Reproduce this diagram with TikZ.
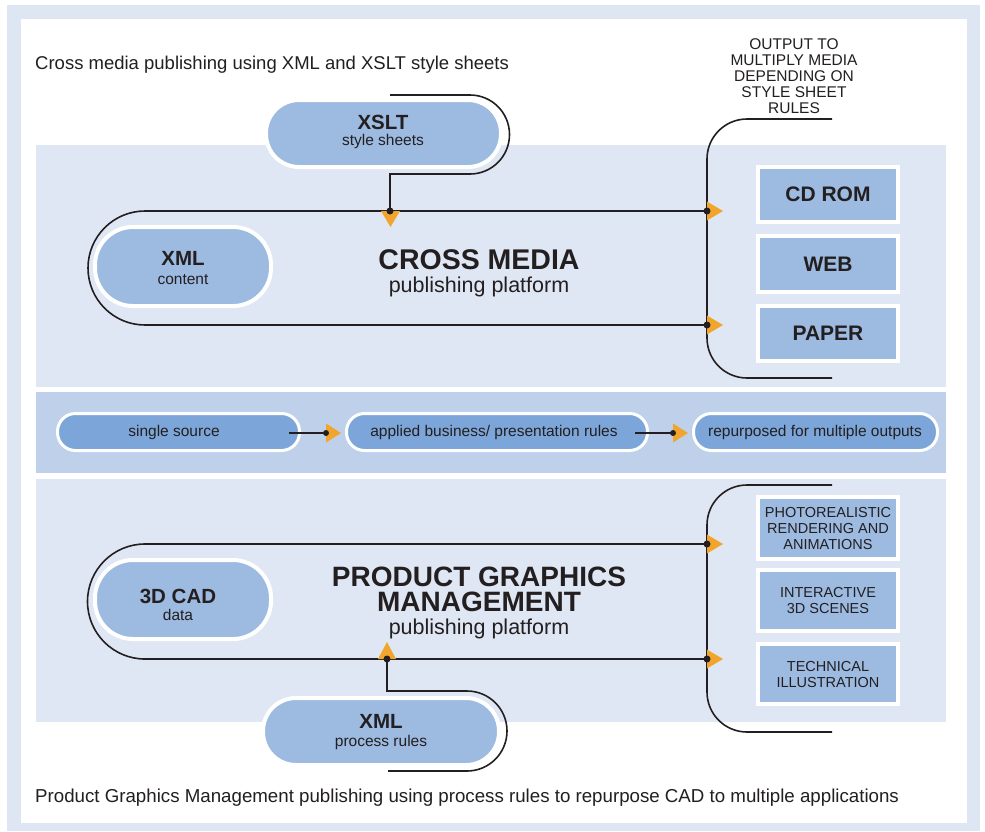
\documentclass[tikz,border=0pt]{standalone}
\usepackage{fontspec}
\setmainfont{Liberation Sans}
\definecolor{framebg}{HTML}{DFE6F3}
\definecolor{panelbg}{HTML}{E0E7F4}
\definecolor{bandbg}{HTML}{BFD0EA}
\definecolor{pillblue}{HTML}{9DBAE1}
\definecolor{midpill}{HTML}{7CA6D9}
\definecolor{arrorange}{HTML}{F2A52C}
\definecolor{ink}{HTML}{231F20}
\newcommand{\fsz}[2]{\fontsize{#1}{#2}\selectfont}
\tikzset{
  pill/.style={draw=white, line width=4pt, fill=pillblue, rounded corners=33pt, inner sep=0pt, align=center, text=ink},
  smallpill/.style={draw=white, line width=3pt, fill=midpill, rounded corners=18pt, inner sep=0pt, minimum height=37pt, text=ink, font=\fsz{15.5}{18}},
  outbox/.style={draw=white, line width=4pt, fill=pillblue, inner sep=0pt, minimum width=140pt, align=center, text=ink},
  conn/.style={draw=ink, line width=1.6pt},
  tri/.style={fill=arrorange},
  dotc/.style={fill=ink},
  lbl/.style={text=ink, inner sep=0pt},
}
\begin{document}
\begin{tikzpicture}[x=1pt,y=-1pt]
\useasboundingbox (0,0) rectangle (985,831);
% frame and backgrounds
\fill[white] (0,0) rectangle (985,831);
\fill[framebg] (7,5) rectangle (980,831);
\fill[white] (21,19) rectangle (967,823);
\fill[panelbg] (36,145) rectangle (946,387);
\fill[bandbg] (36,392) rectangle (946,473);
\fill[panelbg] (36,479) rectangle (946,722);

% captions
\node[lbl, anchor=west, font=\fsz{18.5}{22}] (cap1) at (35,64.5) {Cross media publishing using XML and XSLT style sheets};
\node[lbl, anchor=west, font=\fsz{18.7}{22}] (cap2) at (35,798) {Product Graphics Management publishing using process rules to repurpose CAD to multiple applications};

% ===== top section =====
\coordinate (xsltstart) at (390,95);
\coordinate (xsltjoin) at (390,211);
\draw[conn] (xsltstart) -- (470,95) arc[start angle=-90, end angle=90, radius=39.5] -- (390,174) -- (xsltjoin);

\node[pill, minimum width=235pt, minimum height=67pt] (xslt) at (383.5,133.5) {};
\node[lbl, font=\bfseries\fsz{20.5}{22}] (xsltt) at (383,122) {XSLT};
\node[lbl, font=\fsz{15.5}{18}] (xslts) at (383,141) {style sheets};

% loop
\coordinate (topR1) at (707,211);
\coordinate (topR2) at (707,325);
\draw[conn] (topR1) -- (145,211) arc[start angle=270, end angle=90, radius=57] -- (topR2);

% bracket
\coordinate (brT1) at (832,119);
\coordinate (brB1) at (832,378);
\draw[conn] (brT1) -- (747,119) arc[start angle=270, end angle=180, radius=40] -- (707,338) arc[start angle=180, end angle=90, radius=40] -- (brB1);

\node[pill, rounded corners=38pt, minimum width=176pt, minimum height=79pt] (xmlc) at (183,266.5) {};
\node[lbl, font=\bfseries\fsz{20.5}{22}] (xmlct) at (183,258) {XML};
\node[lbl, font=\fsz{15.5}{18}] (xmlcs) at (183,280) {content};

\node[lbl, font=\bfseries\fsz{28.5}{30}] (cm1) at (479,260) {CROSS MEDIA};
\node[lbl, font=\fsz{21.5}{24}] (cm2) at (479,287) {publishing platform};

% arrows top
\fill[tri] (381,211) -- (400,211) -- (390.5,227) -- cycle;
\fill[dotc] (xsltjoin) circle (3.5);
\fill[tri] (topR1) ++(0,-9.5) -- ++(16,9.5) -- ++(-16,9.5) -- cycle;
\fill[tri] (topR2) ++(0,-9.5) -- ++(16,9.5) -- ++(-16,9.5) -- cycle;
\fill[dotc] (topR1) circle (3.5);
\fill[dotc] (topR2) circle (3.5);

\node[lbl, font=\fsz{15.5}{16}, align=center] (outlbl) at (794,76) {OUTPUT TO\\MULTIPLY MEDIA\\DEPENDING ON\\STYLE SHEET\\RULES};

\node[outbox, minimum height=55pt, font=\bfseries\fsz{21}{24}] (cdrom) at (828,194.5) {CD ROM};
\node[outbox, minimum height=56pt, font=\bfseries\fsz{21}{24}] (web) at (828,264) {WEB};
\node[outbox, minimum height=55pt, font=\bfseries\fsz{21}{24}] (paper) at (828,333.5) {PAPER};

% ===== middle band =====
\node[smallpill, minimum width=242pt] (ss) at (178.5,432) {};
\node[lbl, font=\fsz{15.5}{18}] (sst) at (174,432) {single source};
\node[smallpill, minimum width=301pt] (ab) at (497,432) {};
\node[lbl, font=\fsz{15.5}{18}] (abt) at (494,432) {applied business/ presentation rules};
\node[smallpill, minimum width=244pt] (rp) at (815.5,432) {};
\node[lbl, font=\fsz{15.5}{18}] (rpt) at (815,432) {repurposed for multiple outputs};

\coordinate (c1a) at (289,433);
\coordinate (c1b) at (326,433);
\coordinate (c2a) at (635,433);
\coordinate (c2b) at (673,433);
\draw[conn] (c1a) -- (c1b);
\draw[conn] (c2a) -- (c2b);
\fill[tri] (c1b) ++(0,-9.5) -- ++(15,9.5) -- ++(-15,9.5) -- cycle;
\fill[tri] (c2b) ++(0,-9.5) -- ++(15,9.5) -- ++(-15,9.5) -- cycle;
\fill[dotc] (c1b) circle (3);
\fill[dotc] (c2b) circle (3);

% ===== bottom section =====
\coordinate (botR1) at (707,544);
\coordinate (botR2) at (707,659);
\draw[conn] (botR1) -- (145,544) arc[start angle=270, end angle=90, radius=57.5] -- (botR2);

\coordinate (br2T) at (832,485);
\coordinate (br2B) at (832,732);
\draw[conn] (br2T) -- (747,485) arc[start angle=270, end angle=180, radius=40] -- (707,692) arc[start angle=180, end angle=90, radius=40] -- (br2B);

\coordinate (xmlpjoin) at (387,659);
\coordinate (xmlpend) at (388,771);
\draw[conn] (xmlpjoin) -- (387,691) -- (467,691) arc[start angle=-90, end angle=90, radius=40] -- (xmlpend);

\node[pill, minimum width=236pt, minimum height=67pt] (xmlp) at (381,731.5) {};
\node[lbl, font=\bfseries\fsz{20.5}{22}] (xmlpt) at (381,721) {XML};
\node[lbl, font=\fsz{15.5}{18}] (xmlps) at (381,742) {process rules};

\node[pill, rounded corners=38pt, minimum width=176pt, minimum height=79pt] (cad) at (183,599.5) {};
\node[lbl, font=\bfseries\fsz{20.5}{22}] (cadt) at (178,596) {3D CAD};
\node[lbl, font=\fsz{15.5}{18}] (cads) at (178,615) {data};

\node[lbl, font=\bfseries\fsz{28}{30}] (pg1) at (479,576.5) {PRODUCT GRAPHICS};
\node[lbl, font=\bfseries\fsz{28}{30}] (pg1b) at (479,602) {MANAGEMENT};
\node[lbl, font=\fsz{21.5}{24}] (pg2) at (479,628.5) {publishing platform};

\fill[tri] (378,659) -- (396,659) -- (387,642) -- cycle;
\fill[dotc] (xmlpjoin) circle (3.5);
\fill[tri] (botR1) ++(0,-9.5) -- ++(16,9.5) -- ++(-16,9.5) -- cycle;
\fill[tri] (botR2) ++(0,-9.5) -- ++(16,9.5) -- ++(-16,9.5) -- cycle;
\fill[dotc] (botR1) circle (3.5);
\fill[dotc] (botR2) circle (3.5);

\node[outbox, minimum height=62pt, font=\fsz{14.5}{16}] (photo) at (828,528) {PHOTOREALISTIC\\RENDERING AND\\ANIMATIONS};
\node[outbox, minimum height=61pt, font=\fsz{14.5}{16}] (inter) at (828,600.5) {INTERACTIVE\\3D SCENES};
\node[outbox, minimum height=60pt, font=\fsz{14.5}{16}] (tech) at (828,674) {TECHNICAL\\ILLUSTRATION};
\end{tikzpicture}
\end{document}
